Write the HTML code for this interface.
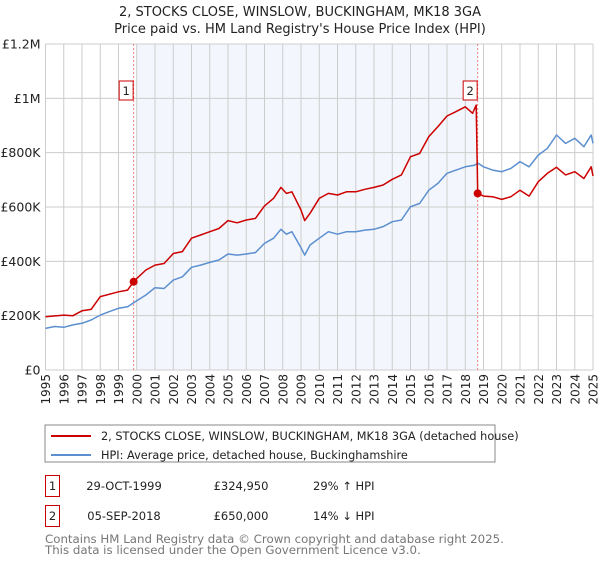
<!DOCTYPE html>
<html><head><meta charset="utf-8"><style>
body{margin:0;background:#fff;font-family:"Liberation Sans","DejaVu Sans",sans-serif;}
svg text{font-family:"DejaVu Sans","Liberation Sans",sans-serif;}
</style></head><body>
<svg id="c" width="600" height="560" xmlns="http://www.w3.org/2000/svg">
<text x="300" y="16" text-anchor="middle" font-size="13" fill="#222">2, STOCKS CLOSE, WINSLOW, BUCKINGHAM, MK18 3GA</text>
<text x="300" y="33" text-anchor="middle" font-size="13" fill="#222">Price paid vs. HM Land Registry's House Price Index (HPI)</text>
<g id="plot"></g>
<rect x="45" y="425" width="450" height="37" fill="none" stroke="#888" stroke-width="1"/>
<line x1="51" y1="436" x2="91" y2="436" stroke="#cc0000" stroke-width="2"/>
<text x="101" y="440" font-size="11.3" fill="#222">2, STOCKS CLOSE, WINSLOW, BUCKINGHAM, MK18 3GA (detached house)</text>
<line x1="51" y1="455" x2="91" y2="455" stroke="#5b8fd0" stroke-width="2"/>
<text x="101" y="459" font-size="11.3" fill="#222">HPI: Average price, detached house, Buckinghamshire</text>
<rect x="45.5" y="475.5" width="14" height="21" fill="#fff" stroke="#cc0000"/>
<text x="52.5" y="490" text-anchor="middle" font-size="11.5" fill="#222">1</text>
<text x="124" y="490" text-anchor="middle" font-size="11.5" fill="#222">29-OCT-1999</text>
<text x="241" y="490" text-anchor="middle" font-size="11.5" fill="#222">£324,950</text>
<text x="313" y="490" font-size="11.5" fill="#222">29% ↑ HPI</text>
<rect x="45.5" y="505.5" width="14" height="21" fill="#fff" stroke="#cc0000"/>
<text x="52.5" y="520" text-anchor="middle" font-size="11.5" fill="#222">2</text>
<text x="124" y="520" text-anchor="middle" font-size="11.5" fill="#222">05-SEP-2018</text>
<text x="241" y="520" text-anchor="middle" font-size="11.5" fill="#222">£650,000</text>
<text x="313" y="520" font-size="11.5" fill="#222">14% ↓ HPI</text>
<text x="45" y="543" font-size="11.8" fill="#777">Contains HM Land Registry data © Crown copyright and database right 2025.</text>
<text x="45" y="554" font-size="11.8" fill="#777">This data is licensed under the Open Government Licence v3.0.</text>
</svg>
<script>
const yTicks=[0,200000,400000,600000,800000,1000000,1200000];
const yTickLabels=["£0","£200K","£400K","£600K","£800K","£1M","£1.2M"];
const xYears=[1995,1996,1997,1998,1999,2000,2001,2002,2003,2004,2005,2006,2007,2008,2009,2010,2011,2012,2013,2014,2015,2016,2017,2018,2019,2020,2021,2022,2023,2024,2025];
const hpiT=[1995,1995.5,1996,1996.5,1997,1997.5,1998,1998.5,1999,1999.5,2000,2000.5,2001,2001.5,2002,2002.5,2003,2003.5,2004,2004.5,2005,2005.5,2006,2006.5,2007,2007.5,2007.9,2008.2,2008.5,2009.0,2009.2,2009.5,2010,2010.5,2011,2011.5,2012,2012.5,2013,2013.5,2014,2014.5,2015,2015.5,2016,2016.5,2017,2017.5,2018,2018.5,2018.7,2019,2019.5,2020,2020.5,2021,2021.5,2022,2022.5,2023,2023.5,2024,2024.5,2024.9,2025];
const hpiV=[153,160,157,166,172,184,202,215,227,233,255,276,303,300,331,343,378,386,396,405,427,423,427,432,466,485,518,500,509,450,423,460,485,509,500,509,509,515,518,528,546,552,601,613,662,687,724,736,748,754,761,748,736,730,742,767,748,791,816,865,834,853,822,865,834];
const priceT=[1995,1996,1996.5,1997,1997.5,1998,1999,1999.5,1999.83,2000,2000.5,2001,2001.5,2002,2002.5,2003,2003.5,2004,2004.5,2005,2005.5,2006,2006.5,2007,2007.5,2007.9,2008.2,2008.5,2009,2009.2,2009.5,2010,2010.5,2011,2011.5,2012,2012.5,2013,2013.5,2014,2014.5,2015,2015.5,2016,2016.5,2017,2017.5,2018,2018.4,2018.6,2018.68,2019,2019.5,2020,2020.5,2021,2021.5,2022,2022.5,2023,2023.5,2024,2024.5,2024.9,2025];
const priceV=[196,202,200,218,223,270,288,294,325,337,368,386,392,429,436,485,497,509,521,550,542,552,558,604,632,672,650,656,589,550,577,632,650,644,656,656,665,672,681,702,718,785,797,859,896,935,951,969,945,975,650,640,638,628,638,662,640,693,724,746,718,730,705,748,714];
const saleT=[1999.83,2018.68];
const saleV=[324950,650000];
const saleLabels=["1","2"];

const NS="http://www.w3.org/2000/svg";
const L=45.5,R=593,T=44,B=370;
const xs=t=>L+(t-1995)/(2025-1995)*(R-L);
const ys=v=>B-v/1200000*(B-T);
const g=document.getElementById('plot');
function mk(tag,attrs){const e=document.createElementNS(NS,tag);for(const k in attrs)e.setAttribute(k,attrs[k]);g.appendChild(e);return e;}
let e=mk('rect',{x:xs(2000),y:T,width:xs(saleT[1])-xs(2000),height:B-T,fill:'#eef3fc',opacity:0.7});


xYears.forEach(yr=>{
 let l=mk('line',{x1:xs(yr),x2:xs(yr),y1:T,y2:B,stroke:'#ccc','stroke-width':1});
 
 
 let t=mk('text',{transform:`translate(${xs(yr)+4.5},${B+4}) rotate(-90)`,'text-anchor':'end','font-size':12,fill:'#222'});
 t.textContent=yr;
 
 
});
yTicks.forEach((v,i)=>{
 let l=mk('line',{x1:L,x2:R,y1:ys(v),y2:ys(v),stroke:'#ccc','stroke-width':1});
 
 
 let t=mk('text',{x:L-5,y:ys(v)+4.5,'text-anchor':'end','font-size':12.5,fill:'#222'});
 t.textContent=yTickLabels[i];
 
 
});
saleT.forEach((s,i)=>{
 let l=mk('line',{x1:xs(s),x2:xs(s),y1:T,y2:B,stroke:'#f08080','stroke-width':1,'stroke-dasharray':'2,2'});
 
 
});
function path(T_,V,col,name){
 let d=T_.map((t,i)=>(i?'L':'M')+xs(t).toFixed(1)+','+ys(V[i]*1000).toFixed(1)).join('');
 let p=mk('path',{d:d,fill:'none',stroke:col,'stroke-width':1.5,'stroke-linejoin':'round'});
 
 
}
path(hpiT,hpiV,'#5b8fd0','hpi-line');
path(priceT,priceV,'#cc0000','price-line');
saleT.forEach((s,i)=>{
 let c=mk('circle',{cx:xs(s),cy:ys(saleV[i]),r:4,fill:'#cc0000'});
 
 
 let bx=mk('rect',{x:xs(s)-14.5,y:81,width:14,height:19,fill:'#fff',stroke:'#cc0000'});
 
 
 let t=mk('text',{x:xs(s)-7.5,y:95,'text-anchor':'middle','font-size':11.5,fill:'#222'});
 t.textContent=saleLabels[i];
 
 
});
</script>
</body></html>
